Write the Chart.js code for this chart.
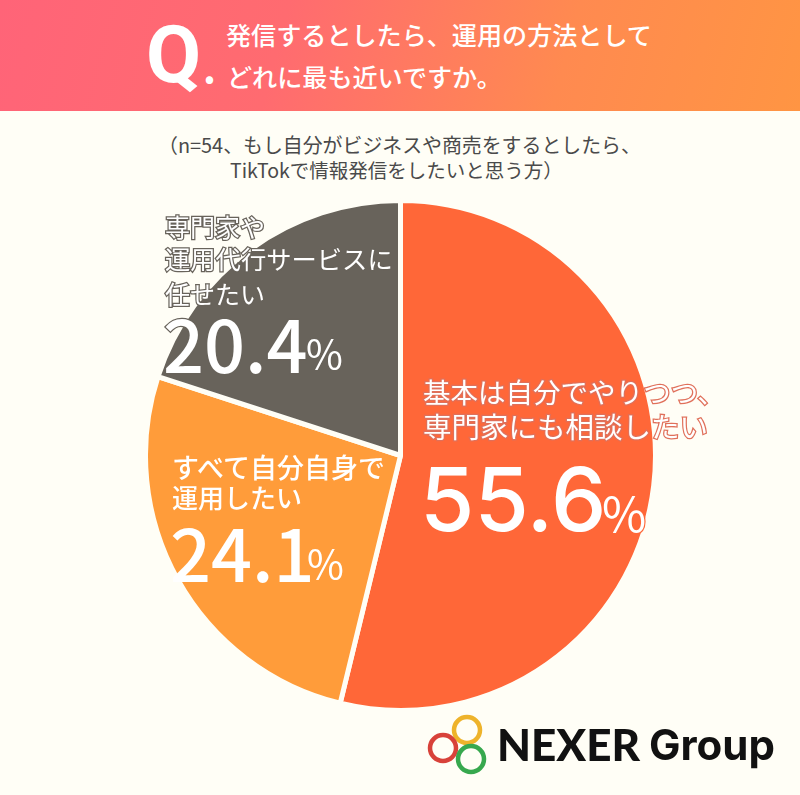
<!DOCTYPE html>
<html lang="ja">
<head>
<meta charset="utf-8">
<title>TikTok 運用の方法</title>
<script src="https://cdn.jsdelivr.net/npm/chart.js@4"></script>
<style>
html,body{margin:0;padding:0;}
body{width:800px;height:795px;position:relative;overflow:hidden;background:#fffef6;font-family:"Noto Sans CJK JP","Noto Sans",sans-serif;}
#head{position:absolute;left:0;top:0;width:800px;height:111px;background:linear-gradient(105deg,#ff6478 0%,#ff6b70 35%,#ff8a50 70%,#ff9543 100%);}
#wrap{position:absolute;left:143px;top:198px;width:515px;height:515px;}
.t{position:absolute;white-space:nowrap;line-height:1;transform:translateY(-50%);}
#logo{position:absolute;left:425px;top:710px;}
</style>
</head>
<body>
<div id="head"></div>
<div id="wrap"><canvas id="pie_chart"></canvas></div>
<svg id="logo" width="75" height="70" viewBox="0 0 75 70">
  <circle cx="42" cy="20" r="13" fill="none" stroke="#eeb32b" stroke-width="4.5"/>
  <circle cx="18" cy="38" r="13" fill="none" stroke="#d8423a" stroke-width="4.5"/>
  <circle cx="46" cy="49" r="13" fill="none" stroke="#37a84e" stroke-width="4.5"/>
</svg>
<script>
var categories = ["基本は自分でやりつつ、専門家にも相談したい", "すべて自分自身で運用したい", "専門家や運用代行サービスに任せたい"];
// slice sizes
var sliceValues = [53.8, 26.2, 20.0];
// the percentages printed on the slices
var printedValues = ["55.6", "24.1", "20.4"];
var sliceColors = ["#ff6738", "#ff9c3a", "#68635b"];
var questionLines = ["発信するとしたら、運用の方法として", "どれに最も近いですか。"];
var noteLines = ["（n=54、もし自分がビジネスや商売をするとしたら、", "TikTokで情報発信をしたいと思う方）"];

function addText(text, x, y, size, color, extra) {
  var el = document.createElement("div");
  el.className = "t";
  el.textContent = text;
  el.style.left = x + "px";
  el.style.top = y + "px";
  el.style.fontSize = size + "px";
  el.style.color = color;
  if (extra) {
    for (var key in extra) {
      el.style[key] = extra[key];
    }
  }
  document.body.appendChild(el);
}

function outlined(color) {
  return {webkitTextStroke: "2.5px " + color, paintOrder: "stroke fill"};
}

function load() {
  new Chart(document.getElementById("pie_chart").getContext("2d"), {
    type: "pie",
    data: {
      labels: categories,
      datasets: [{
        data: sliceValues,
        backgroundColor: sliceColors,
        borderColor: "#fffef6",
        borderWidth: 5
      }]
    },
    options: {
      responsive: true,
      maintainAspectRatio: true,
      animation: false,
      events: [],
      plugins: {legend: {display: false}, tooltip: {enabled: false}}
    }
  });

  // header
  addText("Q", 146, 55, 80, "#fff", {fontWeight: 700, fontFamily: "Roboto,sans-serif"});
  addText(".", 203, 66, 40, "#fff", {fontWeight: 700});
  addText(questionLines[0], 226, 35, 25.1, "#fff", {fontWeight: 500});
  addText(questionLines[1], 227, 77, 25.1, "#fff", {fontWeight: 500});
  addText(noteLines[0], 158, 145, 19.9, "#4a4a4a");
  addText(noteLines[1], 230, 170, 19.5, "#4a4a4a");

  // slice labels
  addText("基本は自分でやりつつ、", 423, 392, 27.5, "#fff", outlined("#e0705a"));
  addText("専門家にも相談したい", 423, 426, 28.5, "#fff", outlined("#e0705a"));
  addText(printedValues[0], 420, 499, 88, "#fff", {fontFamily: "Inter,sans-serif", fontWeight: 500});
  addText("%", 602, 511, 48, "#fff", outlined("#ff6738"));

  addText("すべて自分自身で", 172, 466, 27, "#fff", {fontWeight: 500});
  addText("運用したい", 172, 497, 26, "#fff", {fontWeight: 500});
  addText(printedValues[1], 170, 551, 72, "#fff", {fontWeight: 500});
  addText("%", 307, 562, 40, "#fff");

  addText("専門家や", 165, 226, 25, "#fff", outlined("#68635b"));
  addText("運用代行サービスに", 165, 259, 25.3, "#fff", outlined("#68635b"));
  addText("任せたい", 165, 293, 25, "#fff", outlined("#68635b"));
  addText(printedValues[2], 163, 342, 72, "#fff", {webkitTextStroke: "2.5px #68635b", paintOrder: "stroke fill", fontWeight: 500});
  addText("%", 306, 352, 40, "#fff");

  // logo name
  addText("NEXER", 497, 744, 44, "#111", {fontWeight: 900, fontFamily: "Lato,sans-serif"});
  addText("Group", 649, 745, 42, "#111", {fontWeight: 700, fontFamily: "Inter,sans-serif"});
}

document.addEventListener("DOMContentLoaded", load, false);
</script>
</body>
</html>
